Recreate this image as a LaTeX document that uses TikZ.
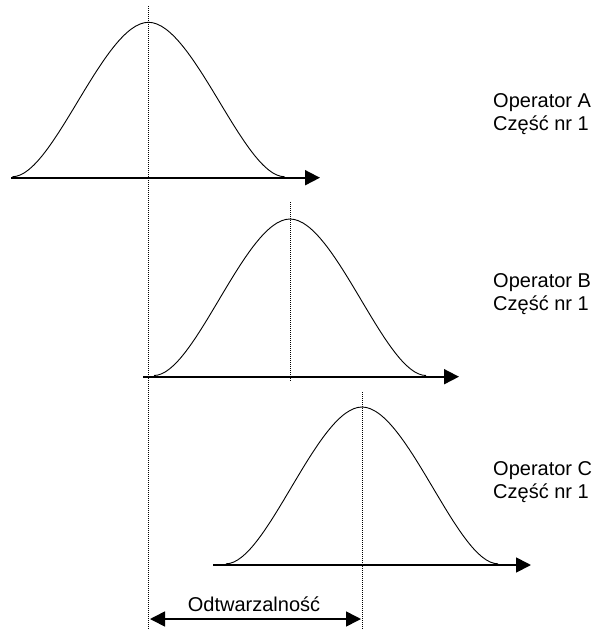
\documentclass[tikz,border=0pt]{standalone}
\usepackage{fontspec}
\setmainfont{Liberation Sans}
\usetikzlibrary{arrows.meta}
\tikzset{
  axisline/.style={line width=1.8pt,-{Triangle[length=15pt,width=15pt]}},
  bell/.style={line width=0.9pt},
  guide/.style={line width=0.8pt,dash pattern=on 1pt off 1pt},
  dimline/.style={line width=1.6pt,{Triangle[length=15pt,width=15pt]}-{Triangle[length=15pt,width=15pt]}},
  lab/.style={inner sep=0pt,anchor=base west,font=\fontsize{20}{23}\selectfont},
}
\begin{document}
\begin{tikzpicture}[x=1pt,y=-1pt]
\useasboundingbox (0,0) rectangle (593,630);
% curve A: centre 148.5, peak 22.3, base 176.7, half width 136
\draw[bell] (12.5,176.7) .. controls (53.3,176.7) and (103.6,22.3) .. (148.5,22.3)
  .. controls (193.4,22.3) and (243.7,176.7) .. (284.5,176.7);
\coordinate (a0) at (11,177.7);
\coordinate (a1) at (320,177.7);
\draw[axisline] (a0) -- (a1);
% curve B: centre 290, peak 219, base 375.5
\draw[bell] (154,375.5) .. controls (194.8,375.5) and (245.1,219) .. (290,219)
  .. controls (334.9,219) and (385.2,375.5) .. (426,375.5);
\coordinate (b0) at (143,376.7);
\coordinate (b1) at (459,376.7);
\draw[axisline] (b0) -- (b1);
% curve C: centre 362, peak 407, base 563.8
\draw[bell] (226,563.8) .. controls (266.8,563.8) and (317.1,407) .. (362,407)
  .. controls (406.9,407) and (457.2,563.8) .. (498,563.8);
\coordinate (c0) at (213,565);
\coordinate (c1) at (531,565);
\draw[axisline] (c0) -- (c1);
% guide lines
\coordinate (ga) at (148.5,6);
\coordinate (ga2) at (148.5,630);
\coordinate (gb) at (290,202);
\coordinate (gb2) at (290,381);
\coordinate (gc) at (362,392);
\coordinate (gc2) at (362,630);
\draw[guide] (ga) -- (ga2);
\draw[guide] (gb) -- (gb2);
\draw[guide] (gc) -- (gc2);
% dimension
\coordinate (d0) at (150,619);
\coordinate (d1) at (361,619);
\draw[dimline] (d0) -- (d1);
\node[inner sep=0pt,anchor=base,font=\fontsize{20}{23}\selectfont] (odt) at (254,611) {Odtwarzalność};
% labels
\node[lab] (la1) at (493,107) {Operator A};
\node[lab] (la2) at (493,130) {Część nr 1};
\node[lab] (lb1) at (493,287) {Operator B};
\node[lab] (lb2) at (493,310) {Część nr 1};
\node[lab] (lc1) at (493,475) {Operator C};
\node[lab] (lc2) at (493,498) {Część nr 1};
\end{tikzpicture}
\end{document}
